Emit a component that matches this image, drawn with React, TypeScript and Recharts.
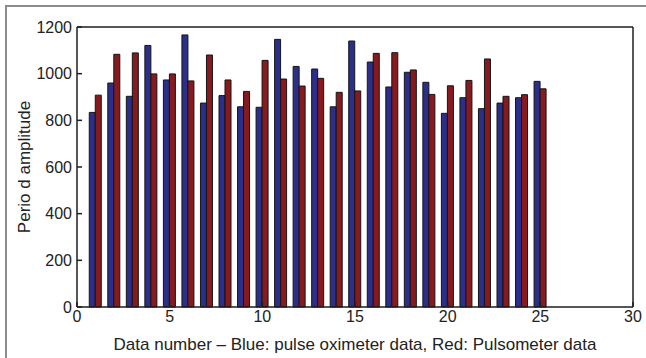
import React from "react";
import { BarChart, Bar, XAxis, YAxis } from "recharts";

// Data number (1..25)
const dataNumbers = [
  1, 2, 3, 4, 5, 6, 7, 8, 9, 10, 11, 12, 13, 14, 15, 16, 17, 18, 19, 20, 21, 22, 23, 24, 25,
];

// Blue: pulse oximeter period amplitude
const oximeter = [
  834, 960, 903, 1121, 973, 1166, 874, 906, 858, 856, 1147, 1031, 1020, 858, 1140, 1050, 943,
  1006, 963, 830, 897, 850, 874, 897, 967,
];

// Red: pulsometer period amplitude
const pulsometer = [
  908, 1083, 1089, 999, 999, 969, 1080, 973, 924, 1057, 977, 947, 980, 920, 926, 1087, 1090,
  1016, 911, 948, 971, 1063, 903, 910, 935,
];

const xTicks = [0, 5, 10, 15, 20, 25, 30];
const yTicks = [0, 200, 400, 600, 800, 1000, 1200];

const rows = dataNumbers.map((n, i) => ({
  n,
  oximeter: oximeter[i],
  pulsometer: pulsometer[i],
}));

const FONT = "'Liberation Sans', Arial, Helvetica, sans-serif";
const tickStyle = { fontSize: 16, fill: "#222", fontFamily: FONT };
const AXIS = "#1e1e1e";

export default function App() {
  return (
    <div style={{ position: "absolute", left: 0, top: 0, width: 646, height: 358, background: "#fff" }}>
      <div
        style={{
          position: "absolute",
          left: 5,
          top: 5,
          width: 641,
          height: 353,
          borderLeft: "2px solid #8c8c8c",
          borderTop: "2px solid #8c8c8c",
          boxSizing: "border-box",
        }}
      />
      <div style={{ position: "absolute", left: 0, top: 0 }}>
        <BarChart
          width={646}
          height={358}
          data={rows}
          margin={{ top: 26, right: 12, left: 0, bottom: 0 }}
          barSize={6}
          barGap={0}
        >
          <XAxis
            xAxisId="bottom"
            dataKey="n"
            type="number"
            domain={[0, 30]}
            ticks={xTicks}
            interval={0}
            height={51}
            stroke={AXIS}
            strokeWidth={1.5}
            tickSize={-5}
            tickMargin={9}
            tick={tickStyle}
            label={{
              value: "Data number \u2013 Blue: pulse oximeter data, Red: Pulsometer data",
              position: "insideBottom",
              offset: 8,
              style: { fontSize: 17, fill: "#222", fontFamily: FONT },
            }}
          />
          <XAxis
            xAxisId="top"
            orientation="top"
            dataKey="n"
            type="number"
            domain={[0, 30]}
            ticks={xTicks}
            interval={0}
            height={1}
            stroke={AXIS}
            strokeWidth={1.5}
            tickSize={-5}
            tick={false}
          />
          <YAxis
            yAxisId="left"
            domain={[0, 1200]}
            ticks={yTicks}
            interval={0}
            width={77}
            stroke={AXIS}
            strokeWidth={1.5}
            tickSize={-5}
            tickMargin={10}
            tick={tickStyle}
            label={{
              value: "Perio d amplitude",
              angle: -90,
              position: "insideLeft",
              offset: 24,
              style: { fontSize: 17, fill: "#222", fontFamily: FONT, textAnchor: "middle" },
            }}
          />
          <YAxis
            yAxisId="right"
            orientation="right"
            domain={[0, 1200]}
            ticks={yTicks}
            interval={0}
            width={1}
            stroke={AXIS}
            strokeWidth={1.5}
            tickSize={-5}
            tick={false}
          />
          <Bar
            dataKey="oximeter"
            xAxisId="bottom"
            yAxisId="left"
            fill="#2B2F8A"
            stroke="#151515"
            strokeWidth={1}
            isAnimationActive={false}
          />
          <Bar
            dataKey="pulsometer"
            xAxisId="bottom"
            yAxisId="left"
            fill="#861A1E"
            stroke="#151515"
            strokeWidth={1}
            isAnimationActive={false}
          />
        </BarChart>
      </div>
    </div>
  );
}
